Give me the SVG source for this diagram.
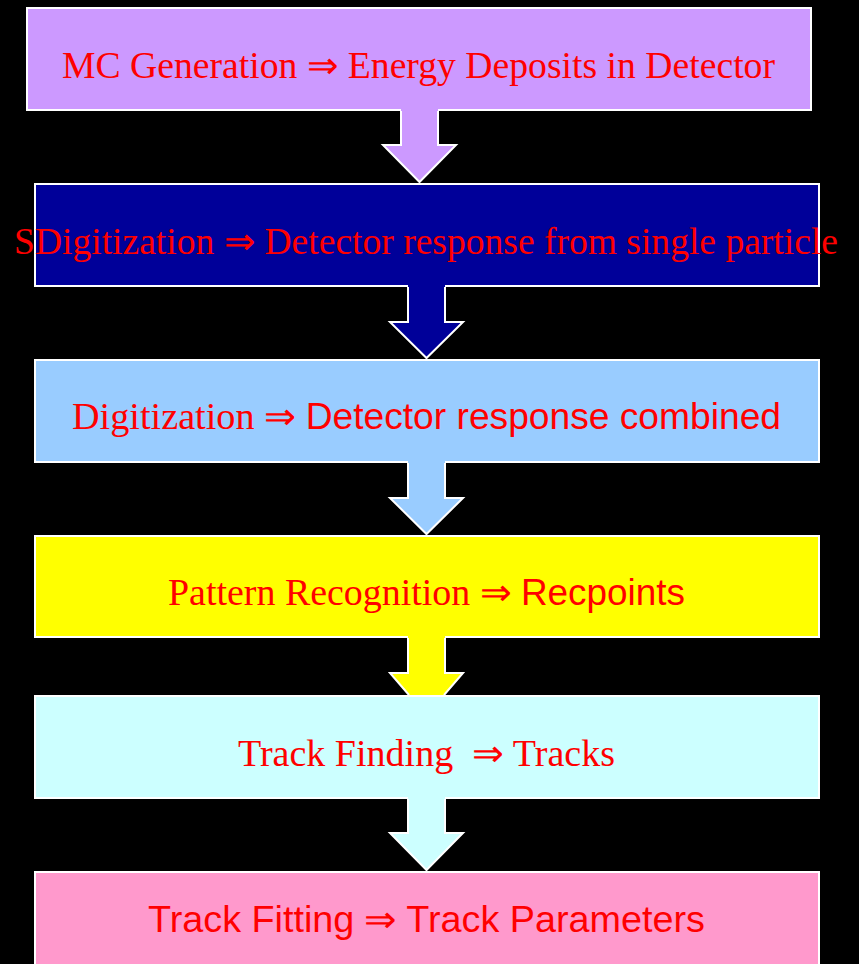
<svg xmlns="http://www.w3.org/2000/svg" width="859" height="964" viewBox="0 0 859 964">
<style>
.box{stroke:#fff;stroke-width:2}
.lbl{fill:#f00;font-family:"Liberation Serif","Times New Roman",serif;font-size:37px;text-anchor:middle}
.s{font-family:"Liberation Sans",Arial,sans-serif;font-size:36px}
.edge{fill:none;stroke:#fff;stroke-width:2;stroke-linejoin:miter}
</style>
<rect width="859" height="964" fill="#000"/>
<g id="n1"><rect class="box" x="27" y="8" width="784" height="102" fill="#CC99FF"/>
<text class="lbl" x="418.5" y="78" textLength="713" lengthAdjust="spacingAndGlyphs">MC Generation ⇒ Energy Deposits in Detector</text></g>
<g id="n2"><rect class="box" x="35" y="184" width="784" height="102" fill="#000099"/>
<text class="lbl" x="426" y="254" textLength="824" lengthAdjust="spacingAndGlyphs">SDigitization ⇒ Detector response from single particle</text></g>
<g id="n3"><rect class="box" x="35" y="360" width="784" height="102" fill="#99CCFF"/>
<text class="lbl" x="426.5" y="429" textLength="709" lengthAdjust="spacingAndGlyphs">Digitization ⇒ <tspan class="s">Detector response combined</tspan></text></g>
<g id="n4"><rect class="box" x="35" y="536" width="784" height="101" fill="#FFFF00"/>
<text class="lbl" x="426.5" y="605" textLength="517" lengthAdjust="spacingAndGlyphs">Pattern Recognition ⇒ <tspan class="s">Recpoints</tspan></text></g>
<g id="n5"><rect class="box" x="35" y="696" width="784" height="102" fill="#CCFFFF"/>
<text class="lbl" x="426.5" y="766" textLength="377" lengthAdjust="spacingAndGlyphs" xml:space="preserve">Track Finding  ⇒ Tracks</text></g>
<g id="n6"><rect class="box" x="35" y="872" width="784" height="100" fill="#FF99CC"/>
<text class="lbl" x="426.5" y="932" textLength="557" lengthAdjust="spacingAndGlyphs"><tspan class="s">Track Fitting</tspan> ⇒ <tspan class="s">Track Parameters</tspan></text></g>
<g id="connectors">
<g id="a1"><polygon points="401,108 438,108 438,145 456,145 419.5,182 383,145 401,145" fill="#CC99FF"/>
<polyline class="edge" points="401,111 401,145 383,145 419.5,182 456,145 438,145 438,111"/></g>
<g id="a2"><polygon points="408,284 445,284 445,322 463,322 426.5,358 390,322 408,322" fill="#000099"/>
<polyline class="edge" points="408,287 408,322 390,322 426.5,358 463,322 445,322 445,287"/></g>
<g id="a3"><polygon points="408,460 445,460 445,498 463,498 426.5,534 390,498 408,498" fill="#99CCFF"/>
<polyline class="edge" points="408,463 408,498 390,498 426.5,534 463,498 445,498 445,463"/></g>
<g id="a4"><polygon points="408,635 445,635 445,673 463,673 444,695 409,695 390,673 408,673" fill="#FFFF00"/>
<polyline class="edge" points="408,638 408,673 390,673 409,695"/>
<polyline class="edge" points="445,638 445,673 463,673 444,695"/></g>
<g id="a5"><polygon points="408,796 445,796 445,833 463,833 426.5,870 390,833 408,833" fill="#CCFFFF"/>
<polyline class="edge" points="408,799 408,833 390,833 426.5,870 463,833 445,833 445,799"/></g>
</g>
</svg>
